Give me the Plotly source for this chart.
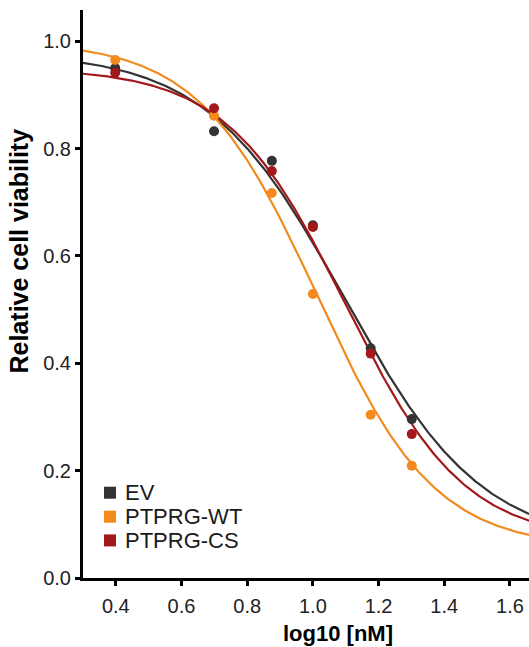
import numpy as np
import plotly.graph_objects as go

# ---- data ----
series_names = ["EV", "PTPRG-WT", "PTPRG-CS"]
series_colors = ["#333333", "#F28A1E", "#A3181B"]

log_dose = [0.398, 0.699, 0.875, 1.0, 1.176, 1.301]
ev_values = [0.950, 0.832, 0.777, 0.657, 0.428, 0.296]
wt_values = [0.965, 0.861, 0.717, 0.529, 0.304, 0.209]
cs_values = [0.941, 0.875, 0.758, 0.654, 0.418, 0.268]

# fitted 4-parameter logistic curves (top, bottom, logIC50, hill)
ev_fit = [0.980, 0.060, 1.097, 2.07]
wt_fit = [1.000, 0.055, 1.012, 2.42]
cs_fit = [0.950, 0.068, 1.100, 2.40]

x_ticks = [0.4, 0.6, 0.8, 1.0, 1.2, 1.4, 1.6]
y_ticks = [0.0, 0.2, 0.4, 0.6, 0.8, 1.0]
x_range = [0.3, 1.658]
y_range = [0.0, 1.058]

W, H = 529, 647
ML, MR, MT, MB = 83, 0, 10, 69
PW = W - ML - MR
PH = H - MT - MB
FONT = "Liberation Sans, Arial"


def px_x(px):
    return (px - ML) / PW


def px_y(py):
    return (H - MB - py) / PH


def four_pl(x, p):
    top, bottom, c, h = p
    return bottom + (top - bottom) / (1.0 + 10 ** ((x - c) * h))


fig = go.Figure()
xs = np.linspace(x_range[0] - 0.02, x_range[1] + 0.02, 400)
values = [ev_values, wt_values, cs_values]
fits = [ev_fit, wt_fit, cs_fit]

for name, color, fit in zip(series_names, series_colors, fits):
    fig.add_trace(go.Scatter(x=xs, y=four_pl(xs, fit), mode="lines",
                             line=dict(color=color, width=2.2), showlegend=False,
                             hoverinfo="skip"))
for name, color, vals in zip(series_names, series_colors, values):
    fig.add_trace(go.Scatter(x=log_dose, y=vals, mode="markers", name=name,
                             marker=dict(color=color, size=10), showlegend=False))

# legend drawn as squares + text
leg_rows_px = [492.7, 516.7, 540.4]
for name, color, py in zip(series_names, series_colors, leg_rows_px):
    fig.add_shape(type="rect", xref="paper", yref="paper",
                  x0=px_x(104), x1=px_x(116), y0=px_y(py + 6), y1=px_y(py - 6),
                  fillcolor=color, line=dict(width=0))
    fig.add_annotation(x=px_x(123), y=px_y(py), xref="paper", yref="paper",
                       text=name, showarrow=False, xanchor="left", yanchor="middle",
                       font=dict(family=FONT, size=22, color="#1a1a1a"))

# axis titles
fig.add_annotation(x=px_x(19), y=px_y(251.5), xref="paper", yref="paper",
                   text="<b>Relative cell viability</b>", textangle=-90, showarrow=False,
                   xanchor="center", yanchor="middle",
                   font=dict(family=FONT, size=25, color="#000000"))
fig.add_annotation(x=px_x(338), y=px_y(633), xref="paper", yref="paper",
                   text="<b>log10 [nM]</b>", showarrow=False,
                   xanchor="center", yanchor="middle",
                   font=dict(family=FONT, size=22, color="#000000"))

axis_common = dict(showline=True, linecolor="black", linewidth=3, ticks="outside",
                   ticklen=5, tickwidth=3, tickcolor="black", showgrid=False,
                   zeroline=False,
                   tickfont=dict(family=FONT, size=20, color="#222222"))

fig.update_xaxes(range=x_range, tickvals=x_ticks, ticktext=[f"{v:.1f}" for v in x_ticks],
                 ticklabelstandoff=3, **axis_common)
fig.update_yaxes(range=y_range, tickvals=y_ticks, ticktext=[f"{v:.1f}" for v in y_ticks],
                 **axis_common)

fig.update_layout(width=W, height=H, margin=dict(l=ML, r=MR, t=MT, b=MB, pad=0),
                  plot_bgcolor="white", paper_bgcolor="white", showlegend=False)

# remove the default page margin so the figure fills the 529x647 window exactly
fig.write_html("out.html", config={"displayModeBar": False},
               post_script="document.body.style.margin='0px';"
                           "document.body.style.overflow='hidden';")
